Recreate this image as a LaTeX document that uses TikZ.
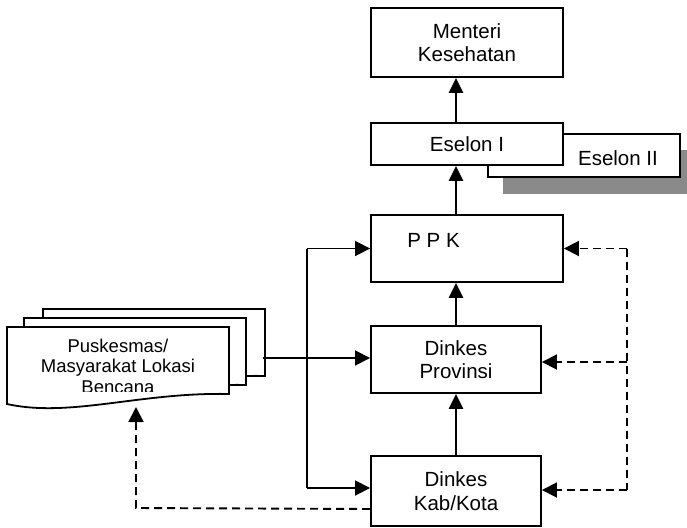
\documentclass[tikz,border=0pt]{standalone}
\usepackage{fontspec}
\setmainfont{Liberation Sans}
\usetikzlibrary{arrows.meta}
\definecolor{shadowgray}{HTML}{8A8A8A}
\begin{document}
\begin{tikzpicture}[x=1pt,y=-1pt,
  mybox/.style={draw,line width=1.9pt,fill=white,rectangle,inner sep=0pt,align=center,font=\fontsize{20.5}{23.5}\selectfont},
  lbl/.style={inner sep=0pt,anchor=base,font=\fontsize{20.5}{23.5}\selectfont},
  doclbl/.style={inner sep=0pt,anchor=base,font=\fontsize{18.5}{20.5}\selectfont},
  arr/.style={line width=2.6pt,-{Triangle[length=15pt,width=14pt]}},
  sline/.style={line width=1.8pt},
  sarr/.style={sline,-{Triangle[length=15pt,width=15pt]}},
  dline/.style={line width=1.9pt,dash pattern=on 8pt off 5pt},
  darr/.style={dline,-{Triangle[length=15pt,width=15pt]}},
  doc/.style={draw,line width=1.8pt,fill=white,line join=miter}]
\useasboundingbox (0,0) rectangle (687,527);

% multi-document shape
\foreach \dx/\dy in {36/-18, 17/-9, 0/0} {
  \path[doc,shift={(\dx,\dy)}] (7,327) -- (229,327) -- (229,394)
     .. controls (140,392) and (70,418) .. (7,404) -- cycle;
}
\begin{scope}
  \clip (7,327) rectangle (229,391);
  \node[doclbl] (doct1) at (118,352) {Puskesmas/};
  \node[doclbl] (doct2) at (118,372) {Masyarakat Lokasi};
  \node[doclbl] (doct3) at (118,393) {Bencana};
\end{scope}

% Eselon II with shadow
\fill[shadowgray] (503,150) rectangle (687,194);
\node[mybox,minimum width=192pt,minimum height=43pt] (es2) at (584,155.5) {};
\node[lbl] (es2t) at (618,165.7) {Eselon II};

% main boxes
\node[mybox,minimum width=192pt,minimum height=69pt] (men) at (467,42.5) {Menteri\\Kesehatan};
\node[mybox,minimum width=192pt,minimum height=42pt] (es1) at (467,144) {Eselon I};
\node[mybox,minimum width=192pt,minimum height=67pt] (ppk) at (467,248.5) {};
\node[lbl] (ppkt) at (433.5,247) {P P K};
\node[mybox,minimum width=170pt,minimum height=67pt] (prov) at (456,359.5) {Dinkes\\Provinsi};
\node[mybox,minimum width=170pt,minimum height=70pt] (kab) at (456,491) {Dinkes\\Kab/Kota};

% vertical solid arrows
\draw[arr] (es1.north -| prov.north) -- (men.south -| prov.north);
\draw[arr] (ppk.north -| prov.north) -- (es1.south -| prov.north);
\draw[arr] (prov.north) -- (ppk.south -| prov.north);
\draw[arr] (kab.north) -- (prov.south);

% left solid connectors
\coordinate (ltop) at (307,248.5);
\coordinate (lbot) at (307,488);
\coordinate (dce) at (263,358);
\draw[sline] (ltop) -- (lbot);
\draw[sarr] (ltop) -- (ltop -| ppk.west);
\draw[sarr] (lbot) -- (lbot -| kab.west);
\draw[sarr] (dce) -- (dce -| prov.west);

% right dashed connectors
\coordinate (rtop) at (627,248.5);
\coordinate (rmid) at (627,362);
\coordinate (rbot) at (627,490);
\draw[dline] (rtop) -- (rbot);
\draw[darr] (rtop) -- (rtop -| ppk.east);
\draw[darr] (rmid) -- (rmid -| prov.east);
\draw[darr] (rbot) -- (rbot -| kab.east);

% left dashed connector back to the documents
\coordinate (kd) at (371,509);
\coordinate (dcorner) at (136,508);
\coordinate (dtip) at (136,407);
\draw[darr] (kd -| kab.west) -- (dcorner) -- (dtip);
\end{tikzpicture}
\end{document}
